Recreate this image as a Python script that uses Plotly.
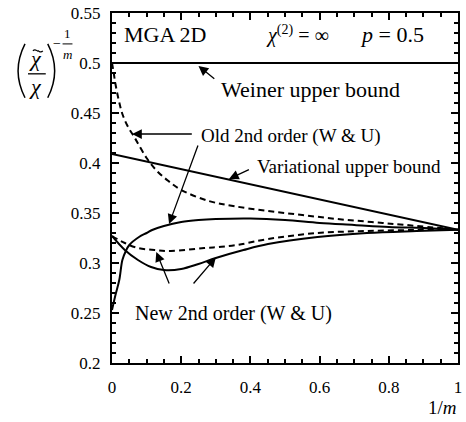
import plotly.graph_objects as go

# ---------------- data ----------------
weiner_x = [0.0, 1.0]
weiner_y = [0.5, 0.5]

var_x = [0.0, 0.5, 1.0]
var_y = [0.409, 0.371, 0.3333]

old_dash_x = [0.0, 0.005, 0.01, 0.02, 0.03, 0.045, 0.066, 0.1, 0.13, 0.163, 0.2,
              0.28, 0.35, 0.45, 0.55, 0.65, 0.75, 0.85, 1.0]
old_dash_y = [0.500, 0.490, 0.479, 0.462, 0.449, 0.437, 0.425, 0.405, 0.392, 0.382, 0.373,
              0.362, 0.357, 0.352, 0.348, 0.344, 0.341, 0.338, 0.3333]

old_solid_x = [0.0, 0.01, 0.021, 0.03, 0.04, 0.05, 0.078, 0.1, 0.116, 0.15, 0.2, 0.25,
               0.3, 0.4, 0.5, 0.6, 0.7, 0.8, 0.9, 1.0]
old_solid_y = [0.253, 0.268, 0.283, 0.303, 0.312, 0.318, 0.326, 0.330, 0.333, 0.337, 0.341,
               0.343, 0.344, 0.3445, 0.343, 0.340, 0.338, 0.336, 0.335, 0.3333]

new_solid_x = [0.0, 0.037, 0.075, 0.113, 0.15, 0.2, 0.25, 0.3, 0.38, 0.451, 0.594,
               0.737, 0.88, 1.0]
new_solid_y = [0.327, 0.313, 0.303, 0.296, 0.293, 0.294, 0.299, 0.305, 0.313, 0.319, 0.326,
               0.330, 0.332, 0.3333]

new_dash_x = [0.0, 0.037, 0.075, 0.123, 0.17, 0.266, 0.309, 0.361, 0.451, 0.594, 0.737,
              0.88, 1.0]
new_dash_y = [0.327, 0.320, 0.315, 0.313, 0.312, 0.315, 0.316, 0.318, 0.324, 0.330, 0.332,
              0.333, 0.3333]

x_ticks = [0, 0.2, 0.4, 0.6, 0.8, 1]
x_tick_text = ["0", "0.2", "0.4", "0.6", "0.8", "1"]
y_ticks = [0.2, 0.25, 0.3, 0.35, 0.4, 0.45, 0.5, 0.55]
y_tick_text = ["0.2", "0.25", "0.3", "0.35", "0.4", "0.45", "0.5", "0.55"]

# ---------------- figure ----------------
W, H = 466, 422
ML, MR, MT, MB = 112, 4, 12, 59
PW, PH = W - ML - MR, H - MT - MB

def px(xp):
    return (xp - ML) / PW

def py(yp):
    return (H - MB - yp) / PH

FONT = "Liberation Serif"
fig = go.Figure()

line = dict(color="black", width=2)
dash = dict(color="black", width=2, dash="6px,4px")

fig.add_trace(go.Scatter(x=weiner_x, y=weiner_y, mode="lines", line=line))
fig.add_trace(go.Scatter(x=var_x, y=var_y, mode="lines", line=line))
fig.add_trace(go.Scatter(x=old_dash_x, y=old_dash_y, mode="lines", line=dash, line_shape="spline"))
fig.add_trace(go.Scatter(x=old_solid_x, y=old_solid_y, mode="lines", line=line, line_shape="spline"))
fig.add_trace(go.Scatter(x=new_solid_x, y=new_solid_y, mode="lines", line=line, line_shape="spline"))
fig.add_trace(go.Scatter(x=new_dash_x, y=new_dash_y, mode="lines", line=dash, line_shape="spline"))

axis_common = dict(
    showline=True, linecolor="black", linewidth=2, mirror="ticks",
    ticks="inside", ticklen=7, tickwidth=1.5, tickcolor="black",
    showgrid=False, zeroline=False,
    tickfont=dict(family=FONT, size=17, color="black"),
)

fig.update_xaxes(range=[0, 1], tickvals=x_ticks, ticktext=x_tick_text,
                 minor=dict(dtick=0.05, ticks="inside", ticklen=4, tickcolor="black", tickwidth=1.5),
                 ticklabelstandoff=8, **axis_common)
fig.update_yaxes(range=[0.2, 0.55], tickvals=y_ticks, ticktext=y_tick_text,
                 minor=dict(dtick=0.01, ticks="inside", ticklen=4, tickcolor="black", tickwidth=1.5),
                 ticklabelstandoff=6, **axis_common)

ann = []
def txt(x, y, s, size=19, xanchor="center", xref="x", yref="y"):
    ann.append(dict(x=x, y=y, text=s, showarrow=False, xref=xref, yref=yref,
                    xanchor=xanchor, yanchor="middle",
                    font=dict(family=FONT, size=size, color="black")))

def arrow(hx, hy, tx, ty):
    ann.append(dict(x=hx, y=hy, ax=tx, ay=ty, xref="x", yref="y", axref="x", ayref="y",
                    text="", showarrow=True, arrowhead=2, arrowsize=1.5, arrowwidth=1.3,
                    arrowcolor="black", standoff=0))

txt(0.155, 0.529, "MGA 2D", size=22)
txt(0.535, 0.529, "<i>χ</i><sup>(2)</sup> = ∞", size=20)
txt(0.81, 0.529, "<i>p</i> = 0.5", size=22)

txt(0.31, 0.474, "Weiner upper bound", size=22, xanchor="left")
arrow(0.25, 0.497, 0.30, 0.483)

txt(0.252, 0.427, "Old 2nd order (W &amp; U)", xanchor="left")
arrow(0.058, 0.429, 0.235, 0.429)
arrow(0.165, 0.339, 0.25, 0.419)

txt(0.413, 0.397, "Variational upper bound", xanchor="left")
arrow(0.338, 0.384, 0.40, 0.394)

txt(0.06, 0.250, "New 2nd order (W &amp; U)", size=20, xanchor="left")
arrow(0.128, 0.311, 0.167, 0.278)
arrow(0.30, 0.3055, 0.232, 0.278)

# x-axis label
txt(px(446), py(408), "1/<i>m</i>", size=19, xref="paper", yref="paper")

# y-axis label built from pieces
txt(px(35), py(58), "<i>χ</i>", size=22, xref="paper", yref="paper")
txt(px(35), py(86), "<i>χ</i>", size=22, xref="paper", yref="paper")
txt(px(56), py(43), "−", size=14, xref="paper", yref="paper")
txt(px(67), py(33), "1", size=13, xref="paper", yref="paper")
txt(px(67), py(54), "<i>m</i>", size=13, xref="paper", yref="paper")

shapes = []
def pline(x0, y0, x1, y1, w=1.3):
    shapes.append(dict(type="line", xref="paper", yref="paper",
                       x0=px(x0), y0=py(y0), x1=px(x1), y1=py(y1),
                       line=dict(color="black", width=w)))

pline(27, 73, 45, 73)
pline(62, 43, 72, 43, 1)

def ppath(pts, w=1.5):
    (x0, y0), (x1, y1), (x2, y2) = pts
    path = f"M {px(x0)},{py(y0)} Q {px(x1)},{py(y1)} {px(x2)},{py(y2)}"
    shapes.append(dict(type="path", xref="paper", yref="paper", path=path,
                       line=dict(color="black", width=w)))

ppath([(24, 43), (10, 70), (24, 97)])
ppath([(47, 43), (61, 70), (47, 97)])

# tilde over the upper chi
tx0, ty0 = 32, 50
tilde = (f"M {px(tx0)},{py(ty0)} C {px(tx0 + 2.5)},{py(ty0 - 3)} {px(tx0 + 4.5)},{py(ty0 + 1)} "
         f"{px(tx0 + 5)},{py(ty0)} C {px(tx0 + 5.5)},{py(ty0 - 1)} {px(tx0 + 7.5)},{py(ty0 + 3)} "
         f"{px(tx0 + 10)},{py(ty0)}")
shapes.append(dict(type="path", xref="paper", yref="paper", path=tilde,
                   line=dict(color="black", width=1.2)))

fig.update_layout(
    width=W, height=H, margin=dict(l=ML, r=MR, t=MT, b=MB),
    paper_bgcolor="white", plot_bgcolor="white", showlegend=False,
    annotations=ann, shapes=shapes,
)

fig.write_html("out.html")
